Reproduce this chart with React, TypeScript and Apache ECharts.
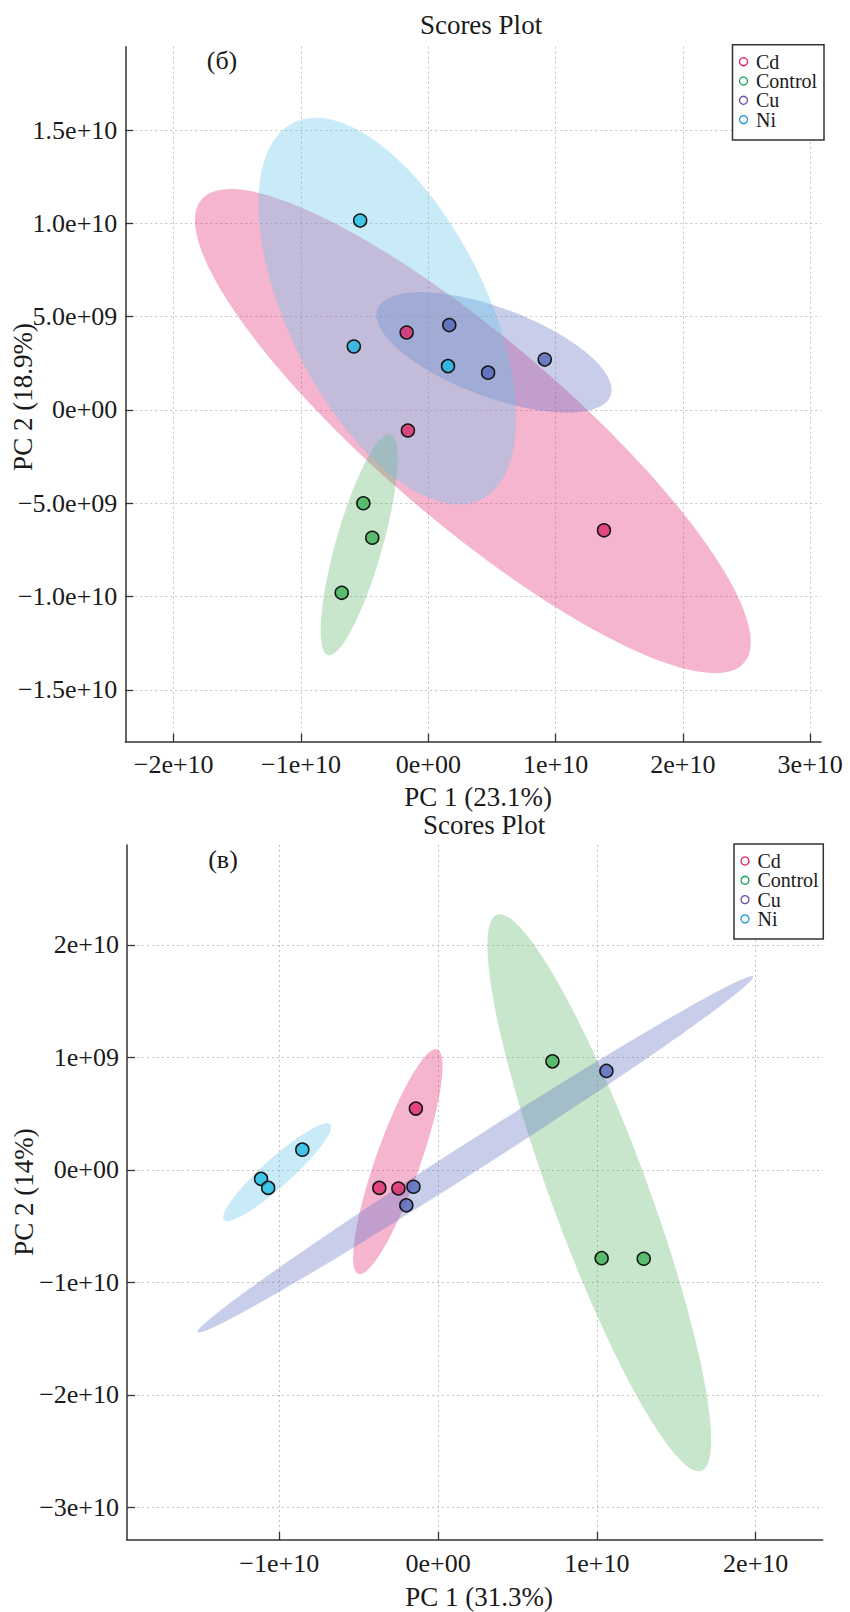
import React, { useEffect, useRef } from 'react';
import * as echarts from 'echarts';

// Group names and colours
const groupNames = ['Cd', 'Control', 'Cu', 'Ni'];
const legendColors = ['#E81E5B', '#16A05A', '#6A4EA6', '#1B9BD8'];
const pointColors = [
  'rgba(222,32,97,0.75)',
  'rgba(51,174,76,0.75)',
  'rgba(77,98,181,0.75)',
  'rgba(18,183,227,0.75)',
];
const ellipseColors = ['#E22C76', '#5FB86A', '#6273C3', '#65C6EB'];
const ellipseAlpha = 0.35;

// Panel (б): PCA scores [PC1, PC2]
const scoresB_Cd = [[-1.7e9, 4.15e9], [-1.6e9, -1.1e9], [13.8e9, -6.45e9]];
const scoresB_Control = [[-5.1e9, -5.0e9], [-4.4e9, -6.85e9], [-6.8e9, -9.8e9]];
const scoresB_Cu = [[1.65e9, 4.55e9], [4.7e9, 2.0e9], [9.15e9, 2.7e9]];
const scoresB_Ni = [[-5.35e9, 10.15e9], [-5.85e9, 3.4e9], [1.55e9, 2.35e9]];

// Panel (в): PCA scores [PC1, PC2]
const scoresV_Cd = [[-1.4e9, 5.45e9], [-3.7e9, -1.6e9], [-2.5e9, -1.65e9]];
const scoresV_Control = [[7.2e9, 9.65e9], [10.3e9, -7.85e9], [12.95e9, -7.9e9]];
const scoresV_Cu = [[10.6e9, 8.8e9], [-1.55e9, -1.5e9], [-2.0e9, -3.15e9]];
const scoresV_Ni = [[-8.55e9, 1.8e9], [-11.15e9, -0.8e9], [-10.7e9, -1.6e9]];

// Axis ticks and their printed labels
const topXTicks = [-2e10, -1e10, 0, 1e10, 2e10, 3e10];
const topXTickLabels = ['−2e+10', '−1e+10', '0e+00', '1e+10', '2e+10', '3e+10'];
const topYTicks = [-1.5e10, -1e10, -5e9, 0, 5e9, 1e10, 1.5e10];
const topYTickLabels = ['−1.5e+10', '−1.0e+10', '−5.0e+09', '0e+00', '5.0e+09', '1.0e+10', '1.5e+10'];
const botXTicks = [-1e10, 0, 1e10, 2e10];
const botXTickLabels = ['−1e+10', '0e+00', '1e+10', '2e+10'];
const botYTicks = [-3e10, -2e10, -1e10, 0, 1e10, 2e10];
const botYTickLabels = ['−3e+10', '−2e+10', '−1e+10', '0e+00', '1e+09', '2e+10'];

const SERIF = '"Liberation Serif", "DejaVu Serif", serif';
const INK = '#1a1a1a';

// 95% confidence ellipse (chi-square, 2 df) from sample covariance
const CHI2_95_2DF = 5.991;
function confidenceEllipse(pts: number[][], steps = 144): number[][] {
  const n = pts.length;
  const mx = pts.reduce((s, p) => s + p[0], 0) / n;
  const my = pts.reduce((s, p) => s + p[1], 0) / n;
  let sxx = 0, syy = 0, sxy = 0;
  pts.forEach((p) => {
    const dx = p[0] - mx, dy = p[1] - my;
    sxx += dx * dx; syy += dy * dy; sxy += dx * dy;
  });
  sxx /= n - 1; syy /= n - 1; sxy /= n - 1;
  const half = (sxx + syy) / 2;
  const d = Math.sqrt(((sxx - syy) / 2) ** 2 + sxy * sxy);
  const l1 = half + d;
  const l2 = Math.max(half - d, 0);
  const th = 0.5 * Math.atan2(2 * sxy, sxx - syy);
  const a = Math.sqrt(CHI2_95_2DF * l1);
  const b = Math.sqrt(CHI2_95_2DF * l2);
  const out: number[][] = [];
  for (let i = 0; i < steps; i++) {
    const t = (2 * Math.PI * i) / steps;
    const ct = Math.cos(t), st = Math.sin(t);
    out.push([
      mx + a * ct * Math.cos(th) - b * st * Math.sin(th),
      my + a * ct * Math.sin(th) + b * st * Math.cos(th),
    ]);
  }
  return out;
}

function hexToRgba(hex: string, alpha: number) {
  const v = parseInt(hex.slice(1), 16);
  return `rgba(${(v >> 16) & 255},${(v >> 8) & 255},${v & 255},${alpha})`;
}

function valueAxis(gridIndex: number, min: number, max: number, ticks: number[], labels: string[], isY: boolean) {
  return {
    type: 'value',
    gridIndex,
    min,
    max,
    axisLine: { show: true, onZero: false, lineStyle: { color: '#333', width: 1.5 } },
    axisTick: { show: true, inside: true, length: 8, customValues: ticks, lineStyle: { color: '#333', width: 1.3 } },
    axisLabel: {
      show: true,
      customValues: ticks,
      margin: isY ? 8 : 10,
      color: INK,
      fontFamily: SERIF,
      fontSize: 26,
      formatter: (v: number) => {
        const i = ticks.findIndex((t) => Math.abs(t - v) < 1);
        return i >= 0 ? labels[i] : '';
      },
    },
    splitLine: { show: true, lineStyle: { color: '#c2c2c2', type: [2, 3], width: 1 } },
  };
}

function panelSeries(gridIdx: number, groups: number[][][]) {
  const list: any[] = [];
  groups.forEach((pts, g) => {
    const ell = confidenceEllipse(pts);
    const mean = [
      pts.reduce((s, p) => s + p[0], 0) / pts.length,
      pts.reduce((s, p) => s + p[1], 0) / pts.length,
    ];
    list.push({
      type: 'custom',
      name: groupNames[g] + ' ellipse',
      xAxisIndex: gridIdx,
      yAxisIndex: gridIdx,
      silent: true,
      z: 1,
      data: [mean],
      renderItem: (_params: any, api: any) => ({
        type: 'polygon',
        shape: { points: ell.map((p) => api.coord(p)) },
        style: { fill: hexToRgba(ellipseColors[g], ellipseAlpha), stroke: 'none' },
      }),
    });
  });
  groups.forEach((pts, g) => {
    list.push({
      type: 'scatter',
      name: groupNames[g],
      xAxisIndex: gridIdx,
      yAxisIndex: gridIdx,
      z: 3,
      symbol: 'circle',
      symbolSize: 13,
      itemStyle: { color: pointColors[g], borderColor: '#151515', borderWidth: 1.5, opacity: 1 },
      data: pts,
    });
  });
  return list;
}

function legendBox(x: number, y: number, w: number, h: number) {
  const els: any[] = [
    {
      type: 'rect',
      z: 20,
      shape: { x, y, width: w, height: h },
      style: { fill: '#fff', stroke: '#333', lineWidth: 1.5 },
    },
  ];
  groupNames.forEach((name, i) => {
    const cy = y + 17 + i * 19.3;
    els.push({
      type: 'circle',
      z: 21,
      shape: { cx: x + 11, cy, r: 4 },
      style: { fill: '#fff', stroke: legendColors[i], lineWidth: 1.3 },
    });
    els.push({
      type: 'text',
      z: 21,
      x: x + 23.5,
      y: cy,
      style: { text: name, fill: INK, font: `20px ${SERIF}`, align: 'left', verticalAlign: 'middle' },
    });
  });
  return els;
}

function label(text: string, x: number, y: number, size: number, rotate = false) {
  return {
    type: 'text',
    z: 10,
    x,
    y,
    rotation: rotate ? Math.PI / 2 : 0,
    style: { text, fill: INK, font: `${size}px ${SERIF}`, align: 'center', verticalAlign: 'middle' },
  };
}

export default function App() {
  const ref = useRef<HTMLDivElement>(null);

  useEffect(() => {
    if (!ref.current) return;
    const chart = echarts.init(ref.current, undefined, { renderer: 'svg' });
    const option: any = {
      animation: false,
      backgroundColor: '#fff',
      grid: [
        { left: 125.3, top: 46.7, width: 695.7, height: 695, outerBoundsMode: 'none', containLabel: false },
        { left: 127, top: 845, width: 695.7, height: 695, outerBoundsMode: 'none', containLabel: false },
      ],
      xAxis: [
        valueAxis(0, -2.38e10, 3.085e10, topXTicks, topXTickLabels, false),
        valueAxis(1, -1.959e10, 2.422e10, botXTicks, botXTickLabels, false),
      ],
      yAxis: [
        valueAxis(0, -1.778e10, 1.947e10, topYTicks, topYTickLabels, true),
        valueAxis(1, -3.291e10, 2.889e10, botYTicks, botYTickLabels, true),
      ],
      series: [
        ...panelSeries(0, [scoresB_Cd, scoresB_Control, scoresB_Cu, scoresB_Ni]),
        ...panelSeries(1, [scoresV_Cd, scoresV_Control, scoresV_Cu, scoresV_Ni]),
      ],
      graphic: [
        label('Scores Plot', 481, 25, 27),
        label('(б)', 222, 60, 26),
        label('PC 1 (23.1%)', 478, 797, 27),
        label('PC 2 (18.9%)', 23, 397, 27, true),
        ...legendBox(732.5, 44.7, 91.5, 95.3),
        label('Scores Plot', 484, 825, 27),
        label('(в)', 223, 859, 26),
        label('PC 1 (31.3%)', 479, 1597, 27),
        label('PC 2 (14%)', 24, 1192, 27, true),
        ...legendBox(734, 844, 89.3, 95),
      ],
    };
    chart.setOption(option);
    return () => chart.dispose();
  }, []);

  return (
    <div
      ref={ref}
      style={{ position: 'absolute', left: 0, top: 0, width: 850, height: 1612 }}
    />
  );
}
